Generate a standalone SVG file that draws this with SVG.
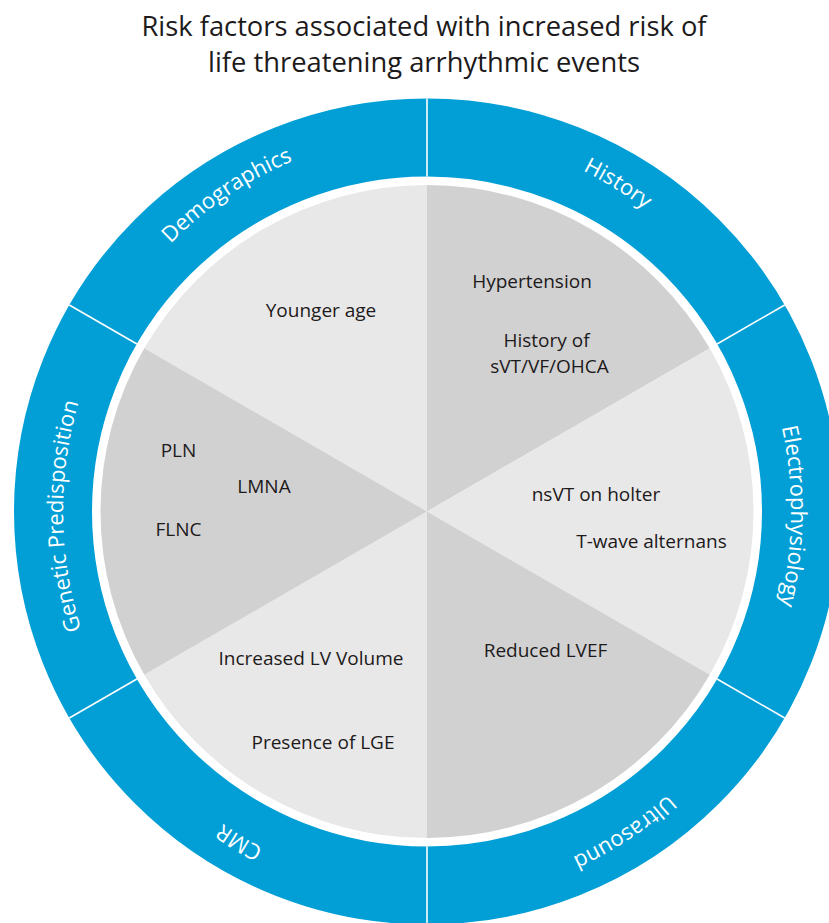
<svg xmlns="http://www.w3.org/2000/svg" width="829" height="923" viewBox="0 0 829 923">
  <style>
    .title { font-family: "Open Sans", "Noto Sans", sans-serif; font-size: 28px; fill: #1d1a1b; text-anchor: middle; }
    .item { font-family: "Open Sans", "Noto Sans", sans-serif; font-size: 19px; fill: #1d1a1b; text-anchor: middle; }
    .cat { font-family: "Open Sans", "Noto Sans", sans-serif; font-size: 22px; fill: #ffffff; text-anchor: middle; }
    .light { fill: #e9e8e8; }
    .dark { fill: #d2d1d2; }
    .divider { stroke: #ffffff; stroke-width: 1.6; }
  </style>
  <defs>
    <path id="labelPath" d="M 427 888.5 A 364 377 0 0 1 63 511.5 A 364 377 0 0 1 427 134.5 A 364 377 0 0 1 791 511.5 A 364 377 0 0 1 427 888.5"/>
  </defs>
  <rect width="829" height="923" fill="#ffffff"/>
  <g id="title">
    <text class="title" x="424" y="36" textLength="565" lengthAdjust="spacingAndGlyphs">Risk factors associated with increased risk of</text>
    <text class="title" x="424" y="72" textLength="432" lengthAdjust="spacingAndGlyphs">life threatening arrhythmic events</text>
  </g>
  <g id="ring">
    <circle cx="427" cy="511.5" r="374" fill="none" stroke="#019fd6" stroke-width="78"/>
  </g>
  <g id="demographics">
    <path class="light" d="M 427 511.5 L 144.24 348.25 A 326.5 326.5 0 0 1 427 185 Z"/>
    <text class="cat"><textPath href="#labelPath" startOffset="40.9%">Demographics</textPath></text>
    <text class="item" x="321" y="317">Younger age</text>
  </g>
  <g id="history">
    <path class="dark" d="M 427 511.5 L 427 185 A 326.5 326.5 0 0 1 709.76 348.25 Z"/>
    <text class="cat"><textPath href="#labelPath" startOffset="58.5%">History</textPath></text>
    <text class="item" x="532" y="288">Hypertension</text>
    <text class="item" x="546.5" y="347">History of</text>
    <text class="item" x="549.5" y="373">sVT/VF/OHCA</text>
  </g>
  <g id="electrophysiology">
    <path class="light" d="M 427 511.5 L 709.76 348.25 A 326.5 326.5 0 0 1 709.76 674.75 Z"/>
    <text class="cat"><textPath href="#labelPath" startOffset="75.2%">Electrophysiology</textPath></text>
    <text class="item" x="596" y="501">nsVT on holter</text>
    <text class="item" x="651.5" y="548">T-wave alternans</text>
  </g>
  <g id="ultrasound">
    <path class="dark" d="M 427 511.5 L 709.76 674.75 A 326.5 326.5 0 0 1 427 838 Z"/>
    <text class="cat"><textPath href="#labelPath" startOffset="91.1%">Ultrasound</textPath></text>
    <text class="item" x="545.5" y="657">Reduced LVEF</text>
  </g>
  <g id="cmr">
    <path class="light" d="M 427 511.5 L 427 838 A 326.5 326.5 0 0 1 144.24 674.75 Z"/>
    <text class="cat"><textPath href="#labelPath" startOffset="8.333%">CMR</textPath></text>
    <text class="item" x="311" y="665">Increased LV Volume</text>
    <text class="item" x="323" y="749">Presence of LGE</text>
  </g>
  <g id="genetic-predisposition">
    <path class="dark" d="M 427 511.5 L 144.24 674.75 A 326.5 326.5 0 0 1 144.24 348.25 Z"/>
    <text class="cat"><textPath href="#labelPath" startOffset="24.8%">Genetic Predisposition</textPath></text>
    <text class="item" x="178.5" y="457">PLN</text>
    <text class="item" x="264" y="493">LMNA</text>
    <text class="item" x="178.5" y="536">FLNC</text>
  </g>
  <g id="connectors">
    <line class="divider" x1="427" y1="176.5" x2="427" y2="98.5"/>
    <line class="divider" x1="717.1" y1="344" x2="784.7" y2="305"/>
    <line class="divider" x1="717.1" y1="679" x2="784.7" y2="718"/>
    <line class="divider" x1="427" y1="846.5" x2="427" y2="924.5"/>
    <line class="divider" x1="136.9" y1="679" x2="69.3" y2="718"/>
    <line class="divider" x1="136.9" y1="344" x2="69.3" y2="305"/>
  </g>
</svg>
